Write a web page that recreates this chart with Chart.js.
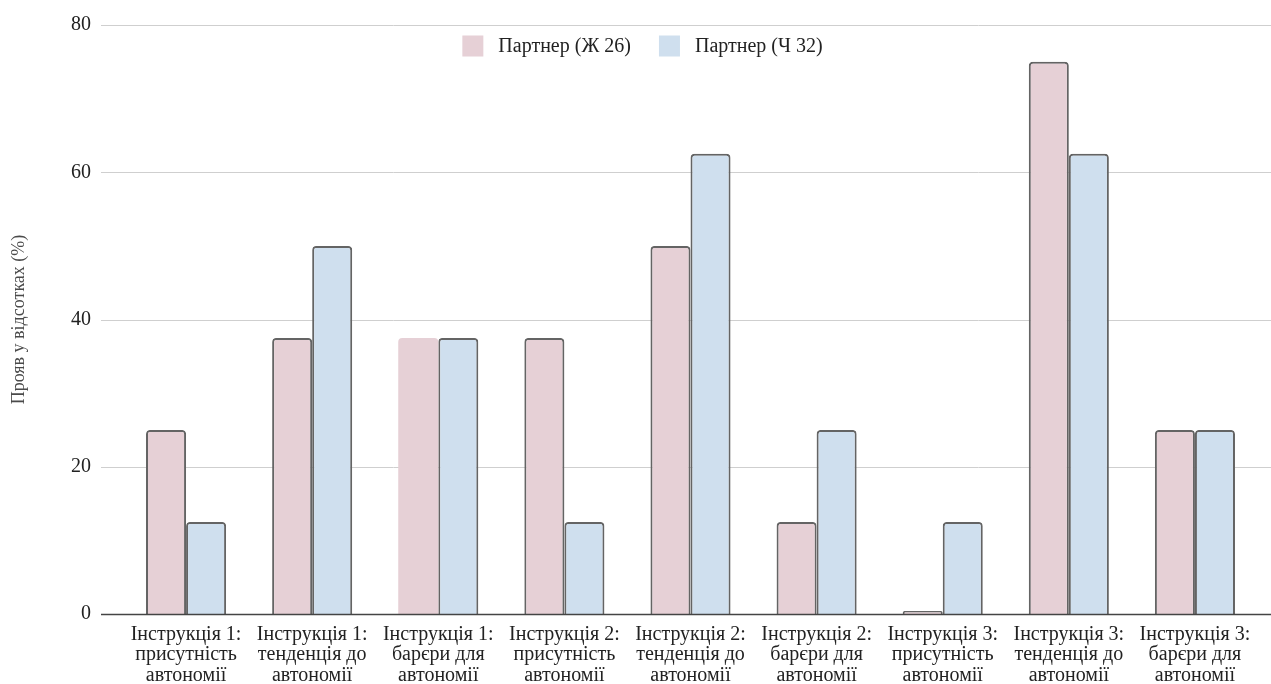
<!DOCTYPE html>
<html>
<head>
<meta charset="utf-8">
<script src="https://cdn.jsdelivr.net/npm/chart.js@4"></script>
<style>
  body { margin: 0; background: #fff; }
  #wrap { width: 1271px; height: 684px; }
</style>
</head>
<body>
<div id="wrap"><canvas id="partnerChart"></canvas></div>
<script>
const categories = [
    ['Інструкція 1:', 'присутність', 'автономії'],
    ['Інструкція 1:', 'тенденція до', 'автономії'],
    ['Інструкція 1:', 'барєри для', 'автономії'],
    ['Інструкція 2:', 'присутність', 'автономії'],
    ['Інструкція 2:', 'тенденція до', 'автономії'],
    ['Інструкція 2:', 'барєри для', 'автономії'],
    ['Інструкція 3:', 'присутність', 'автономії'],
    ['Інструкція 3:', 'тенденція до', 'автономії'],
    ['Інструкція 3:', 'барєри для', 'автономії']
];
const femaleValues = [25, 37.5, 37.5, 37.5, 50, 12.5, 0, 75, 25];
const maleValues = [12.5, 50, 37.5, 12.5, 62.5, 25, 12.5, 62.5, 25];
const yTicks = [0, 20, 40, 60, 80];

const ctx = document.getElementById('partnerChart');
const serif = '"Liberation Serif", "DejaVu Serif", serif';

// grid lines reach past the plot area like in the original
const wideGrid = {
    id: 'wideGrid',
    beforeDatasetsDraw(chart) {
        const c = chart.ctx;
        const y = chart.scales.y;
        c.save();
        c.lineWidth = 1;
        c.strokeStyle = '#cfcfcf';
        yTicks.forEach(v => {
            if (v === 0) return;
            const py = Math.round(y.getPixelForValue(v)) + 0.5;
            c.beginPath();
            c.moveTo(101, py);
            c.lineTo(chart.width, py);
            c.stroke();
        });
        c.restore();
    },
    afterDatasetsDraw(chart) {
        const c = chart.ctx;
        const py = Math.round(chart.scales.y.getPixelForValue(0)) + 0.5;
        c.save();
        c.lineWidth = 1.5;
        c.strokeStyle = '#444';
        c.beginPath();
        c.moveTo(101, py);
        c.lineTo(chart.width, py);
        c.stroke();
        c.restore();
    }
};

// legend drawn inside the plot area, it takes no room
const innerLegend = {
    id: 'innerLegend',
    afterDraw(chart) {
        const c = chart.ctx;
        const box = 21, gap = 15, spacing = 28, midY = 46;
        c.save();
        c.font = '20px ' + serif;
        c.textBaseline = 'middle';
        const items = chart.data.datasets.map(ds => ({
            text: ds.label,
            color: ds.backgroundColor,
            w: box + gap + c.measureText(ds.label).width
        }));
        const total = items.reduce((s, it) => s + it.w, 0) + spacing * (items.length - 1);
        let x = chart.width / 2 + 7 - total / 2;
        items.forEach(it => {
            c.fillStyle = it.color;
            c.fillRect(x, midY - box / 2, box, box);
            c.fillStyle = '#222';
            c.fillText(it.text, x + box + gap, midY + 1);
            x += it.w + spacing;
        });
        c.restore();
    }
};

new Chart(ctx, {
    type: 'bar',
    data: {
        labels: categories,
        datasets: [{
            label: 'Партнер (Ж 26)',
            data: femaleValues,
            backgroundColor: '#e6d0d6',
            borderColor: '#646464',
            borderWidth: [2, 2, 0, 2, 2, 2, 2, 2, 2],
            borderRadius: 4,
            borderSkipped: 'bottom',
            minBarLength: 3
        }, {
            label: 'Партнер (Ч 32)',
            data: maleValues,
            backgroundColor: '#cfdfee',
            borderColor: '#646464',
            borderWidth: 2,
            borderRadius: 4,
            borderSkipped: 'bottom'
        }]
    },
    options: {
        responsive: true,
        maintainAspectRatio: false,
        animation: false,
        categoryPercentage: 0.635,
        barPercentage: 1.0,
        layout: {
            padding: { top: 25, right: 13, bottom: 0, left: 0 }
        },
        plugins: {
            legend: { display: false },
            tooltip: { enabled: false }
        },
        scales: {
            x: {
                grid: { display: false, drawTicks: false },
                border: { display: false },
                ticks: {
                    font: { family: serif, size: 20, lineHeight: 1.03 },
                    color: '#222',
                    padding: 10,
                    maxRotation: 0,
                    autoSkip: false
                },
                afterFit(scale) { scale.height = 70; }
            },
            y: {
                min: 0,
                max: 80,
                grid: { display: false, drawTicks: false },
                border: { display: false },
                afterBuildTicks(scale) {
                    scale.ticks = yTicks.map(v => ({ value: v }));
                },
                ticks: {
                    font: { family: serif, size: 20 },
                    color: '#222',
                    padding: 32
                },
                title: {
                    display: true,
                    text: 'Прояв у відсотках (%)',
                    font: { family: serif, size: 18 },
                    color: '#4a4a4a',
                    padding: { top: 8, bottom: 0 }
                },
                afterFit(scale) {
                    scale.width = 123;
                    // tick padding should not push the plot down
                    scale.paddingTop = 0;
                    scale.paddingBottom = 0;
                }
            }
        }
    },
    plugins: [wideGrid, innerLegend]
});
</script>
</body>
</html>
